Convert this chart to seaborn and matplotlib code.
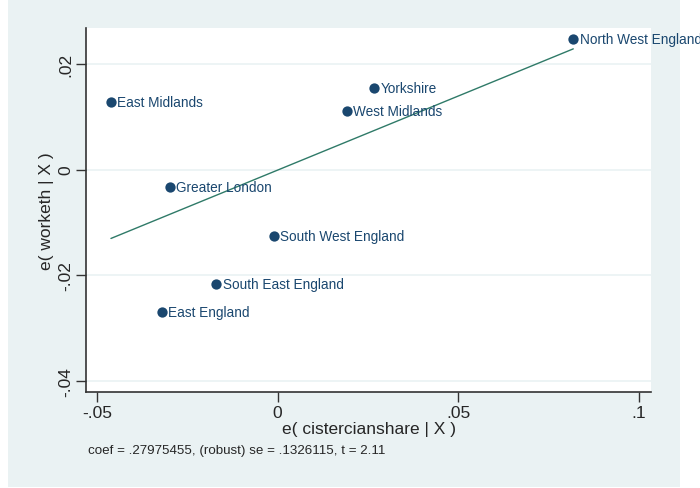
import numpy as np
import pandas as pd
import seaborn as sns
import matplotlib.pyplot as plt
from matplotlib.patches import Rectangle

# residuals
regions = ["North West England", "Yorkshire", "West Midlands", "East Midlands",
           "Greater London", "South West England", "South East England", "East England"]
e_cist = [0.0818, 0.0268, 0.0191, -0.0461, -0.0298, -0.0011, -0.0169, -0.0320]
e_work = [0.0247, 0.01546, 0.0111, 0.0128, -0.00327, -0.01255, -0.02164, -0.0269]
xticks = [-0.05, 0, 0.05, 0.1]
xlabels = ["-.05", "0", ".05", ".1"]
yticks = [-0.04, -0.02, 0, 0.02]
ylabels = ["-.04", "-.02", "0", ".02"]
note = "coef = .27975455, (robust) se = .1326115, t = 2.11"

df = pd.DataFrame({"region": regions, "x": e_cist, "y": e_work})

sns.set_style("white")
plt.rcParams['font.family'] = ['Liberation Sans', 'DejaVu Sans']

navy = "#1a476f"
bg = "#eaf2f3"

fig = plt.figure(figsize=(7, 4.89), dpi=100, facecolor="white")
fig.patches.append(Rectangle((8 / 700, 1 - 488 / 489), 672 / 700, 487 / 489,
                             transform=fig.transFigure, facecolor=bg,
                             edgecolor="none", zorder=-10))
ax = fig.add_axes([86 / 700, 1 - 393 / 489, 565 / 700, 364 / 489])
ax.set_facecolor("white")

sns.regplot(data=df, x="x", y="y", scatter=False, ci=None, ax=ax,
            line_kws={"color": "#2f7a68", "lw": 1.0})
sns.scatterplot(data=df, x="x", y="y", ax=ax, color=navy, s=55,
                edgecolor=navy, linewidth=0, zorder=3)
for _, r in df.iterrows():
    ax.annotate(r["region"], (r["x"], r["y"]), xytext=(4.5, 0),
                textcoords="offset points", va="center", ha="left",
                fontsize=9.8, color=navy)

ax.set_xlim(-0.053, 0.1033)
ax.set_ylim(-0.0421, 0.0268)
ax.set_xticks(xticks)
ax.set_xticklabels(xlabels, fontsize=12.5)
ax.set_yticks(yticks)
ax.set_yticklabels(ylabels, fontsize=12.5, rotation=90, va="center")
ax.grid(axis="y", color=bg, lw=1.2)
ax.set_axisbelow(True)
for s in ["top", "right"]:
    ax.spines[s].set_visible(False)
for s in ["left", "bottom"]:
    ax.spines[s].set_color("#333333")
    ax.spines[s].set_linewidth(1.2)
ax.tick_params(bottom=True, left=True, direction="out", length=7, width=1,
               color="#333333", pad=2)

ax.set_xlabel("e( cistercianshare | X )", fontsize=12.5, labelpad=1)
ax.set_ylabel("e( worketh | X )", fontsize=12.5, labelpad=3)
fig.text(88 / 700, 1 - 451 / 489, note, fontsize=9.6, va="center", ha="left")

fig.savefig("out.png", dpi=100, facecolor=fig.get_facecolor())
